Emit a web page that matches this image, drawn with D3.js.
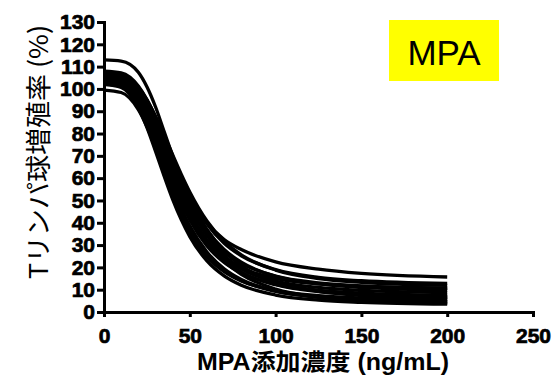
<!DOCTYPE html>
<html>
<head>
<meta charset="utf-8">
<script src="https://cdn.jsdelivr.net/npm/d3@7"></script>
<style>
  body { margin: 0; background: #fff; }
  svg { display: block; }
</style>
</head>
<body>
<div id="chart"></div>
<script>
// MPA concentrations (ng/mL) where each fitted curve is sampled
const doses = [0, 10, 20, 25, 30, 35, 40, 45, 50, 60, 70, 80, 100, 125, 150, 200]

// T-cell proliferation (%) per donor
const donor01 = [102, 100.7, 91.6, 82.8, 72.1, 61.0, 50.5, 41.4, 33.8, 22.9, 16.2, 12.0, 7.6, 5.3, 4.3, 3.5]
const donor02 = [103, 101.8, 92.7, 84.0, 73.4, 62.4, 52.0, 43.0, 35.5, 24.7, 18.1, 13.9, 9.6, 7.3, 6.3, 5.5]
const donor03 = [104, 102.9, 94.8, 86.8, 76.9, 66.2, 55.9, 46.6, 38.6, 26.9, 19.4, 14.6, 9.5, 6.8, 5.6, 4.6]
const donor04 = [106, 104.9, 96.9, 89.0, 79.2, 68.6, 58.4, 49.1, 41.3, 29.6, 22.2, 17.5, 12.4, 9.7, 8.5, 7.6]
const donor05 = [102, 101.1, 94.5, 87.9, 79.4, 70.0, 60.4, 51.6, 43.9, 32.1, 24.3, 19.3, 13.9, 11.0, 9.7, 8.7]
const donor06 = [105, 104.1, 97.1, 90.2, 81.2, 71.2, 61.2, 51.9, 43.8, 31.4, 23.2, 17.9, 12.2, 9.1, 7.8, 6.7]
const donor07 = [107, 106.1, 99.3, 92.5, 83.7, 73.9, 64.1, 55.0, 47.0, 34.8, 26.8, 21.7, 16.1, 13.1, 11.7, 10.7]
const donor08 = [104, 103.2, 96.9, 90.5, 82.2, 72.6, 62.8, 53.4, 45.0, 31.8, 22.8, 16.9, 10.3, 6.7, 5.1, 3.9]
const donor09 = [106, 105.2, 99.2, 93.1, 85.0, 75.9, 66.4, 57.4, 49.4, 36.7, 28.0, 22.3, 16.0, 12.6, 11.0, 9.8]
const donor10 = [108, 107.2, 101.3, 95.2, 87.3, 78.2, 68.8, 59.9, 52.0, 39.4, 30.8, 25.2, 19.0, 15.5, 14.0, 12.8]
const donor11 = [107, 106.3, 100.8, 95.1, 87.4, 78.4, 68.9, 59.5, 51.0, 37.0, 27.3, 20.7, 13.4, 9.3, 7.4, 6.0]
const donor12 = [99.5, 98.4, 90.7, 83.1, 73.6, 63.4, 53.5, 44.6, 37.1, 25.8, 18.7, 14.1, 9.2, 6.6, 5.5, 4.6]
const donor13 = [113, 112.5, 107.5, 101, 92, 81, 70, 60, 51.5, 40, 32.5, 28, 22.5, 19.2, 17.3, 15.7]
const donor14 = [105, 104.2, 98.1, 91.8, 83.6, 74.3, 64.6, 55.4, 47.2, 34.2, 25.4, 19.6, 13.2, 9.7, 8.1, 6.8]
const donor15 = [103, 102.0, 94.4, 87.0, 77.8, 67.9, 58.2, 49.6, 42.2, 31.3, 24.3, 19.8, 15.1, 12.6, 11.5, 10.6]
const donor16 = [106, 105.3, 100.2, 94.9, 87.8, 79.4, 70.5, 61.8, 53.8, 40.8, 31.7, 25.6, 18.8, 15.0, 13.3, 11.9]

const donors = [donor01, donor02, donor03, donor04, donor05, donor06, donor07, donor08,
  donor09, donor10, donor11, donor12, donor13, donor14, donor15, donor16]

const xTicks = [0, 50, 100, 150, 200, 250]
const yTicks = d3.range(0, 131, 10)

const xTitle = 'MPA添加濃度 (ng/mL)'
const yTitle = 'Tリンパ球増殖率 (%)'
const drugLabel = 'MPA'

const width = 556
const height = 376

const svg = d3.select('#chart')
  .append('svg')
  .attr('width', width)
  .attr('height', height)

// scales
const x = d3.scaleLinear().domain([0, 250]).range([104, 533])
const y = d3.scaleLinear().domain([0, 130]).range([312, 22])

// curves first so the axes sit on top
const line = d3.line()
  .x((d, i) => x(doses[i]))
  .y(d => y(d))
  .curve(d3.curveMonotoneX)

svg.append('g')
  .selectAll('path')
  .data(donors)
  .join('path')
  .attr('fill', 'none')
  .attr('stroke', '#000')
  .attr('stroke-width', 3.3)
  .attr('d', line)

const tickFont = g => g.selectAll('.tick text')
  .attr('font-family', '"Liberation Sans", Arial, sans-serif')
  .attr('font-weight', 'bold')
  .attr('font-size', 21)
  .attr('fill', '#000')
  .attr('stroke', '#000')
  .attr('stroke-width', 0.7)

// Y axis
svg.append('g')
  .attr('transform', `translate(${x(0)},0)`)
  .call(d3.axisLeft(y).tickValues(yTicks).tickSize(7).tickSizeOuter(0).tickPadding(2))
  .call(g => g.select('.domain').attr('stroke-width', 3).attr('stroke-linecap', 'square'))
  .call(g => g.selectAll('.tick line').attr('stroke-width', 3))
  .call(tickFont)

// X axis
svg.append('g')
  .attr('transform', `translate(0,${y(0)})`)
  .call(d3.axisBottom(x).tickValues(xTicks).tickSize(5).tickSizeOuter(0).tickPadding(11))
  .call(g => g.select('.domain').attr('stroke-width', 3).attr('stroke-linecap', 'square'))
  .call(g => g.selectAll('.tick line').attr('stroke-width', 3))
  .call(tickFont)

// axis titles
svg.append('text')
  .attr('x', 323)
  .attr('y', 370)
  .attr('text-anchor', 'middle')
  .attr('font-family', '"Liberation Sans", "Noto Sans CJK JP", sans-serif')
  .attr('font-weight', 'bold')
  .attr('font-size', 23)
  .attr('textLength', 252)
  .attr('lengthAdjust', 'spacingAndGlyphs')
  .text(xTitle)

svg.append('text')
  .attr('transform', 'translate(48,152) rotate(-90)')
  .attr('text-anchor', 'middle')
  .attr('font-family', '"Noto Sans CJK JP", sans-serif')
  .attr('font-size', 26)
  .attr('textLength', 254)
  .attr('lengthAdjust', 'spacingAndGlyphs')
  .text(yTitle)

// drug label on yellow
svg.append('rect')
  .attr('x', 389)
  .attr('y', 20)
  .attr('width', 110)
  .attr('height', 61)
  .attr('fill', '#ffff00')

svg.append('text')
  .attr('x', 444)
  .attr('y', 65)
  .attr('text-anchor', 'middle')
  .attr('font-family', '"Liberation Sans", Arial, sans-serif')
  .attr('font-size', 35)
  .attr('fill', '#000')
  .text(drugLabel)
</script>
</body>
</html>
